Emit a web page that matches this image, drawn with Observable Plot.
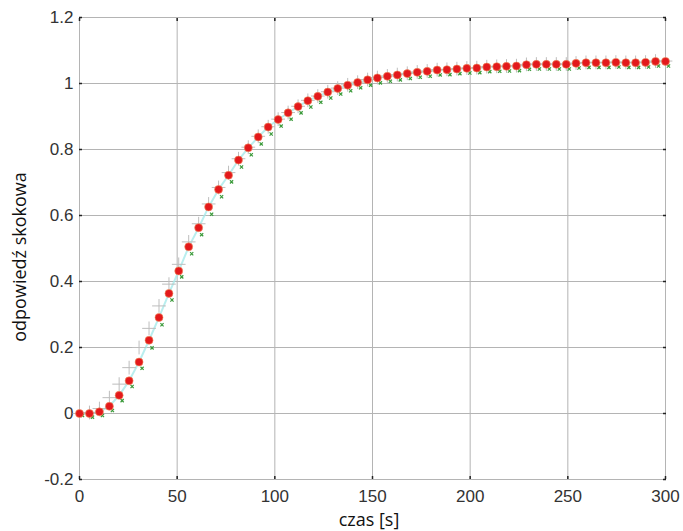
<!DOCTYPE html>
<html>
<head>
<meta charset="utf-8">
<script src="https://cdn.jsdelivr.net/npm/d3@7"></script>
<script src="https://cdn.jsdelivr.net/npm/@observablehq/plot@0.6"></script>
<style>
  html, body { margin: 0; padding: 0; background: #fff; }
</style>
</head>
<body>
<div id="chart"></div>
<script>
// sample times [s]
const times = [0, 5.1, 10.2, 15.3, 20.3, 25.4, 30.5, 35.6, 40.7, 45.8, 50.8, 55.9, 61.0, 66.1, 71.2, 76.3, 81.4, 86.4, 91.5, 96.6,
  101.7, 106.8, 111.9, 116.9, 122.0, 127.1, 132.2, 137.3, 142.4, 147.5, 152.5, 157.6, 162.7, 167.8, 172.9, 178.0, 183.1, 188.1, 193.2, 198.3,
  203.4, 208.5, 213.6, 218.6, 223.7, 228.8, 233.9, 239.0, 244.1, 249.2, 254.2, 259.3, 264.4, 269.5, 274.6, 279.7, 284.7, 289.8, 294.9, 300];

// red dots
const redValues = [0, 0, 0.005, 0.022, 0.055, 0.099, 0.156, 0.222, 0.291, 0.364, 0.432,
  0.505, 0.563, 0.626, 0.679, 0.722, 0.768,
  0.805, 0.838, 0.868, 0.891, 0.911, 0.930, 0.948, 0.961, 0.974, 0.985, 0.995, 1.003, 1.011, 1.017, 1.022, 1.026, 1.030, 1.034, 1.037, 1.041, 1.042,
  1.044, 1.046, 1.047, 1.050, 1.051, 1.052, 1.053, 1.057, 1.058, 1.058, 1.058, 1.058, 1.061, 1.063, 1.063, 1.063, 1.064, 1.063, 1.063, 1.064, 1.067, 1.067];

// light "+" markers
const plusValues = [0, 0.003, 0.015, 0.048, 0.089, 0.139, 0.2, 0.258, 0.326, 0.392, 0.452, 0.52, 0.575, 0.635, 0.685, 0.73, 0.772,
  0.807, 0.84, 0.869, 0.892, 0.912, 0.931, 0.949, 0.962, 0.975, 0.986, 0.996, 1.004, 1.012, 1.018, 1.023, 1.027, 1.031, 1.035, 1.038, 1.042,
  1.043, 1.045, 1.047, 1.048, 1.051, 1.052, 1.053, 1.054, 1.058, 1.059, 1.059, 1.059, 1.059, 1.062, 1.064, 1.064, 1.064, 1.065, 1.064, 1.064,
  1.065, 1.068, 1.068];

// small green markers
const greenValues = [0, -0.005, 0.0, 0.015, 0.045, 0.088, 0.143, 0.205, 0.275, 0.35, 0.42, 0.49, 0.548, 0.61, 0.663,
  0.708, 0.753, 0.79, 0.823, 0.853, 0.877, 0.898, 0.917, 0.935, 0.949, 0.962, 0.974, 0.984, 0.993, 1.001,
  1.008, 1.013, 1.017, 1.021, 1.025, 1.028, 1.032, 1.033, 1.036, 1.038, 1.039, 1.042, 1.043, 1.044, 1.045,
  1.049, 1.05, 1.05, 1.05, 1.05, 1.053, 1.055, 1.055, 1.055, 1.056, 1.055, 1.055, 1.056, 1.059, 1.059];

const xTicks = [0, 50, 100, 150, 200, 250, 300];
const yTicks = [-0.2, 0, 0.2, 0.4, 0.6, 0.8, 1, 1.2];
const xTickLabels = ["0", "50", "100", "150", "200", "250", "300"];
const yTickLabels = ["-0.2", "0", "0.2", "0.4", "0.6", "0.8", "1", "1.2"];
const xLabel = "czas [s]";
const yLabel = "odpowiedź skokowa";

const red = times.map((t, i) => ({t, v: redValues[i]}));
const plus = times.map((t, i) => ({t, v: plusValues[i]}));
const green = times.map((t, i) => ({t, v: greenValues[i]}));

const gridColor = "#b4b4b4";
const empty = () => "";

const svg = Plot.plot({
  width: 683,
  height: 531,
  marginLeft: 79,
  marginRight: 18,
  marginTop: 17,
  marginBottom: 52,
  style: {fontFamily: "'Liberation Sans', Arial, sans-serif", fontSize: "17px", color: "#333", background: "#fff"},
  x: {domain: [0, 300], label: null},
  y: {domain: [-0.2, 1.2], label: null},
  marks: [
    Plot.gridX(xTicks, {stroke: gridColor, strokeOpacity: 1}),
    Plot.gridY(yTicks, {stroke: gridColor, strokeOpacity: 1}),
    Plot.frame({stroke: gridColor}),
    Plot.axisX(xTicks, {anchor: "bottom", tickSize: 0, tickPadding: 10, tickFormat: (d) => xTickLabels[xTicks.indexOf(d)], label: null, fontSize: 17}),
    Plot.axisY(yTicks, {anchor: "left", tickSize: 0, tickPadding: 6, tickFormat: (d) => yTickLabels[yTicks.indexOf(d)], label: null, fontSize: 17}),
    Plot.axisX(xTicks, {anchor: "bottom", tickSize: -3, tickFormat: empty, label: null, stroke: "#222", strokeWidth: 1.5}),
    Plot.axisX(xTicks, {anchor: "top", tickSize: -3, tickFormat: empty, label: null, stroke: "#222", strokeWidth: 1.5}),
    Plot.axisY(yTicks, {anchor: "left", tickSize: -3, tickFormat: empty, label: null, stroke: "#222", strokeWidth: 1.5}),
    Plot.axisY(yTicks, {anchor: "right", tickSize: -3, tickFormat: empty, label: null, stroke: "#222", strokeWidth: 1.5}),
    Plot.line(red, {x: "t", y: "v", stroke: "#a8eaea", strokeWidth: 2, strokeOpacity: 0.8}),
    Plot.dot(plus, {x: "t", y: "v", symbol: "plus", r: 4.5, stroke: "#bdbdbd", strokeWidth: 1}),
    Plot.dot(green, {x: "t", y: "v", dx: 3, dy: 2, symbol: "times", r: 1.6, stroke: "#3a9a3a", strokeWidth: 1.2}),
    Plot.dot(red, {x: "t", y: "v", r: 4, fill: "#e3191c", stroke: "#f0905f", strokeWidth: 0.6})
  ]
});

const s = d3.select(svg);
s.append("text")
  .attr("x", 369).attr("y", 526)
  .attr("text-anchor", "middle")
  .style("font-family", "'Open Sans', 'Noto Sans', sans-serif")
  .style("font-size", "18px")
  .style("fill", "#111")
  .text(xLabel);
s.append("text")
  .attr("transform", "translate(26,257) rotate(-90)")
  .attr("text-anchor", "middle")
  .style("font-family", "'Open Sans', 'Noto Sans', sans-serif")
  .style("font-size", "18px")
  .style("fill", "#111")
  .text(yLabel);

document.getElementById("chart").appendChild(svg);
</script>
</body>
</html>
